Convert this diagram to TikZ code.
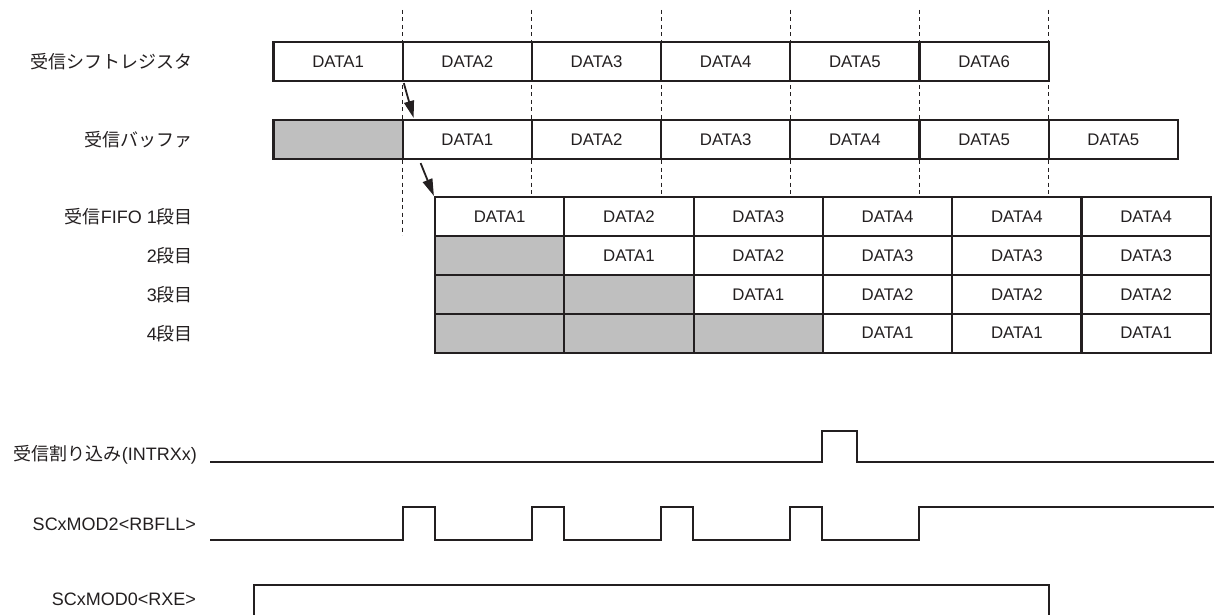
\documentclass[tikz,border=0pt]{standalone}
\usepackage{fontspec}
\setmainfont{Liberation Sans}
\newfontfamily\jp{Noto Sans CJK JP}
\usetikzlibrary{arrows.meta,calc}
\definecolor{shade}{RGB}{191,191,191}
\definecolor{ink}{RGB}{35,31,32}
\begin{document}
\begin{tikzpicture}[x=1pt,y=-1pt,
  cell/.style={draw=ink, line width=2.2pt, fill=white, minimum width=129.2pt, minimum height=39pt, inner sep=0pt, text=ink, font=\fontsize{16.8}{18}\selectfont},
  fcell/.style={cell, minimum width=129.3pt, minimum height=38.9pt},
  greycell/.style={fill=shade},
  lbl/.style={anchor=east, inner sep=0pt, text=ink, font=\fontsize{18}{20}\selectfont},
  guide/.style={draw=ink, line width=1.1pt, dash pattern=on 4pt off 3.5pt},
  sig/.style={draw=ink, line width=2.4pt},
  flow/.style={draw=ink, line width=1.8pt, -{Triangle[length=17pt,width=10pt]}}]
\useasboundingbox (0,0) rectangle (1214,615);
% guide lines
\foreach \k in {1,...,6} {
  \coordinate (gt\k) at ({273.5+129.2*\k},10);
}
\coordinate (gb1) at (402.7,235);
\foreach \k in {2,...,6} {
  \coordinate (gb\k) at ({273.5+129.2*\k},197);
}
\foreach \k in {1,...,6} { \draw[guide] (gt\k) -- (gb\k); }
% shift register
\foreach \t [count=\i] in {DATA1,DATA2,DATA3,DATA4,DATA5,DATA6}
  \node[cell] (sr\i) at ({273.5+129.2*(\i-0.5)},61.5) {\t};
% receive buffer
\node[cell,greycell] (bf1) at ({273.5+129.2*0.5},139.5) {};
\foreach \t [count=\i from 2] in {DATA1,DATA2,DATA3,DATA4,DATA5,DATA5}
  \node[cell] (bf\i) at ({273.5+129.2*(\i-0.5)},139.5) {\t};
% FIFO
\foreach \t [count=\c] in {DATA1,DATA2,DATA3,DATA4,DATA4,DATA4}
  \node[fcell] (fa\c) at ({435+129.3*(\c-0.5)},216.5) {\t};
\node[fcell,greycell] (fb1) at ({435+129.3*0.5},255.4) {};
\foreach \t [count=\c from 2] in {DATA1,DATA2,DATA3,DATA3,DATA3}
  \node[fcell] (fb\c) at ({435+129.3*(\c-0.5)},255.4) {\t};
\foreach \c in {1,2}
  \node[fcell,greycell] (fc\c) at ({435+129.3*(\c-0.5)},294.3) {};
\foreach \t [count=\c from 3] in {DATA1,DATA2,DATA2,DATA2}
  \node[fcell] (fc\c) at ({435+129.3*(\c-0.5)},294.3) {\t};
\foreach \c in {1,2,3}
  \node[fcell,greycell] (fd\c) at ({435+129.3*(\c-0.5)},333.2) {};
\foreach \t [count=\c from 4] in {DATA1,DATA1,DATA1}
  \node[fcell] (fd\c) at ({435+129.3*(\c-0.5)},333.2) {\t};
% transfer arrows
\draw[flow] ($(sr1.south east)+(0,1)$) -- ($(bf2.north west)+(12,-1)$);
\draw[flow] ($(bf2.south west)+(19,3)$) -- (fa1.north west);
% labels
\node[lbl] (l1) at (193,61.5) {\jp 受信シフトレジスタ};
\node[lbl] (l2) at (193,139.5) {\jp 受信バッファ};
\node[lbl] (l3) at (193,216.5) {{\jp 受信}FIFO\hspace{5pt}1{\jp 段目}};
\node[lbl] (l4) at (193,255.4) {2{\jp 段目}};
\node[lbl] (l5) at (193,294.3) {3{\jp 段目}};
\node[lbl] (l6) at (193,333.2) {4{\jp 段目}};
\node[lbl] (s1) at (197,455) {{\jp 受信割り込み}(INTRXx)};
\node[lbl] (s2) at (196,524) {SCxMOD2<RBFLL>};
\node[lbl] (s3) at (196,599) {SCxMOD0<RXE>};
% signals
\draw[sig] (210,462) -| (822,431) -| (857,462) -- (1214,462);
\draw[sig] (210,540) -| (403,507) -| (435,540) -| (532,507) -| (564,540)
  -| (661,507) -| (693,540) -| (790,507) -| (822,540) -| (919,507) -- (1214,507);
\draw[sig] (254,617) |- (1049,585) -- (1049,617);
\end{tikzpicture}
\end{document}
